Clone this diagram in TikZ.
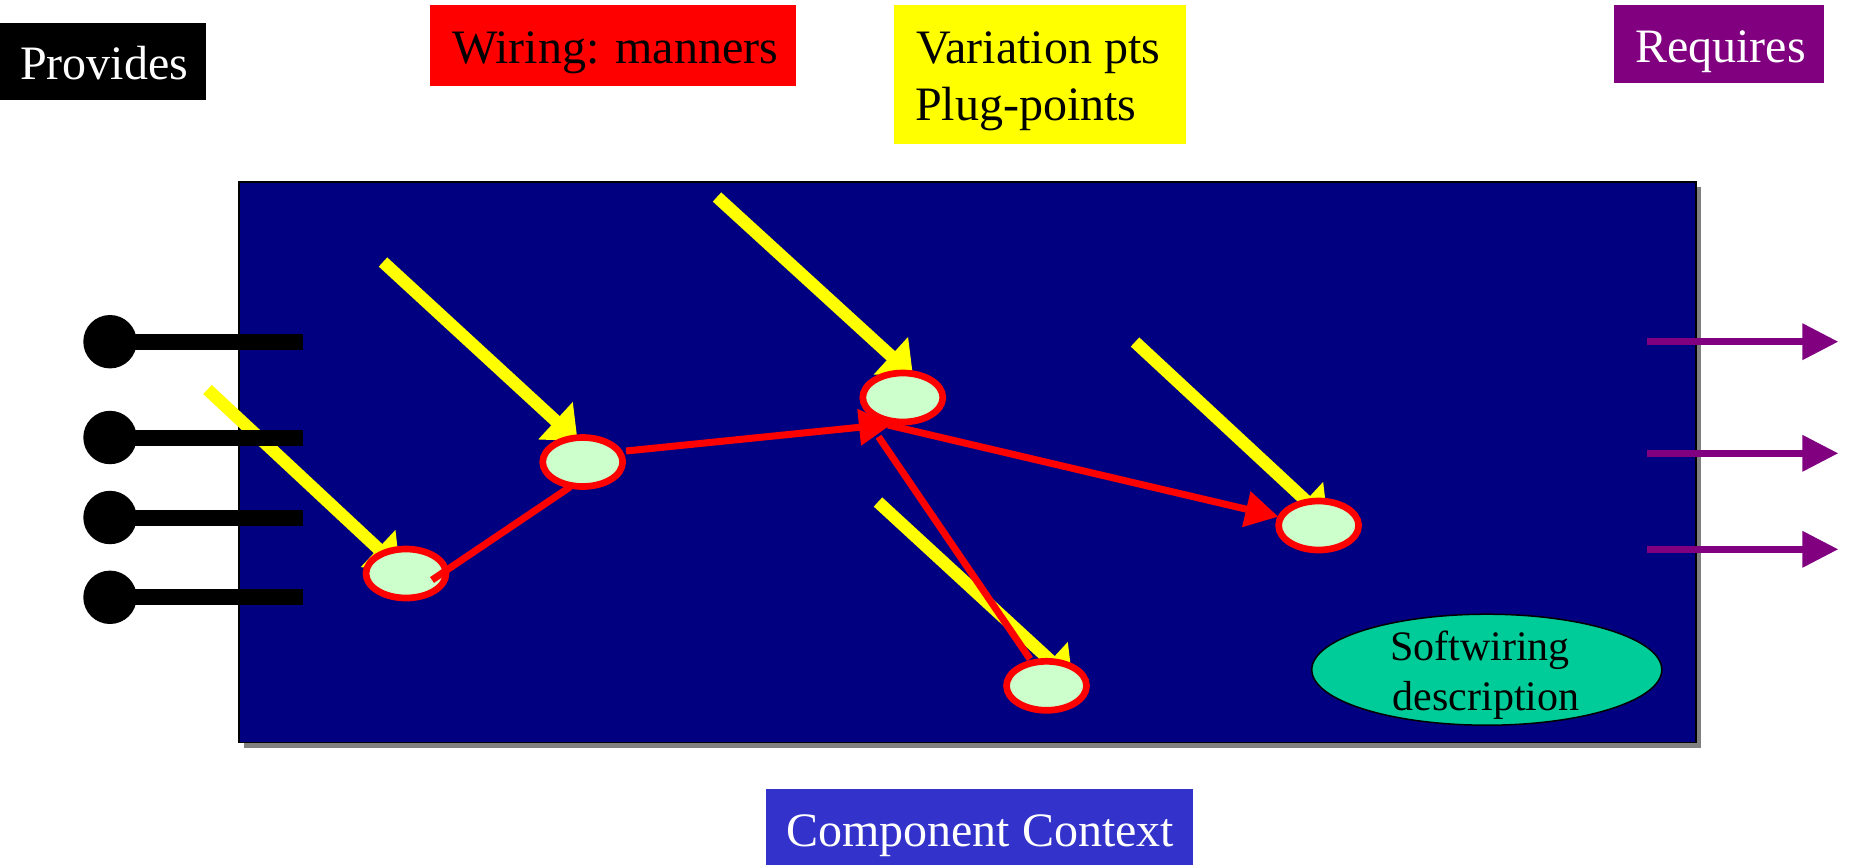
\documentclass[tikz,border=0pt]{standalone}
\usepackage{fontspec}
\setmainfont{Liberation Serif}
\usetikzlibrary{arrows.meta,shapes.geometric}
\definecolor{navyc}{HTML}{000080}
\definecolor{redc}{HTML}{FF0000}
\definecolor{yellowc}{HTML}{FFFF00}
\definecolor{purplec}{HTML}{800080}
\definecolor{compc}{HTML}{3333CC}
\definecolor{plugc}{HTML}{CCFFCC}
\definecolor{softc}{HTML}{00CC99}
\definecolor{shadowc}{HTML}{808080}
\begin{document}
\begin{tikzpicture}[x=1pt,y=-1pt,
  lbl/.style={inner sep=0pt,anchor=base west,font=\fontsize{48}{55}\selectfont},
  slbl/.style={inner sep=0pt,anchor=base west,font=\fontsize{42}{50}\selectfont},
  tagbox/.style={draw=none,inner sep=0pt,anchor=north west},
  yarrow/.style={draw=yellowc,line width=12.5pt,-{Triangle[width=49pt,length=30pt]}},
  rline/.style={draw=redc,line width=7pt},
  rarrow/.style={rline,-{Triangle[width=35pt,length=33pt]}},
  parrow/.style={draw=purplec,line width=7pt,-{Triangle[width=35pt,length=36pt]}},
  plug/.style={ellipse,draw=redc,line width=6.7pt,fill=plugc,minimum width=80pt,minimum height=49pt,inner sep=0pt},
  lolli/.style={circle,fill=black,minimum size=53.4pt,inner sep=0pt},
  stick/.style={line width=16pt,draw=black},
  ]
\useasboundingbox (0,0) rectangle (1852,865);
% label boxes
\node[tagbox,fill=black,minimum width=206pt,minimum height=76.6pt] (provbox) at (0,22.7) {};
\node[tagbox,fill=redc,minimum width=366pt,minimum height=81pt] (wirebox) at (430,4.7) {};
\node[tagbox,fill=yellowc,minimum width=292.4pt,minimum height=138.6pt] (varbox) at (893.3,4.7) {};
\node[tagbox,fill=purplec,minimum width=210pt,minimum height=77.7pt] (reqbox) at (1614,5) {};
\node[tagbox,fill=compc,minimum width=426.7pt,minimum height=76pt] (compbox) at (765.8,789) {};
% main component
\fill[shadowc] (244,187) rectangle (1701,747.5);
\node[tagbox,draw=black,line width=1.5pt,fill=navyc,minimum width=1457pt,minimum height=560.5pt] (ctx) at (238,181) {};
% first yellow arrow (under the sticks)
\coordinate (y1s) at (207.5,389.5);
\coordinate (y1t) at (400,569);
\draw[yarrow] (y1s) -- (y1t);
% provides lollipops
\node[lolli] (pa) at (110,341.7) {};
\node[lolli] (pb) at (110,437.5) {};
\node[lolli] (pc) at (110,517.5) {};
\node[lolli] (pd) at (110,597.3) {};
\coordinate (pae) at (302.7,341.7);
\coordinate (pbe) at (302.7,437.5);
\coordinate (pce) at (302.7,517.5);
\coordinate (pde) at (302.7,597.3);
\draw[stick] (pa.center) -- (pae);
\draw[stick] (pb.center) -- (pbe);
\draw[stick] (pc.center) -- (pce);
\draw[stick] (pd.center) -- (pde);
% other yellow arrows
\coordinate (y2s) at (383,262);
\coordinate (y2t) at (577.6,441);
\coordinate (y3s) at (717,197);
\coordinate (y3t) at (913,376);
\coordinate (y4s) at (1135,342);
\coordinate (y4t) at (1327.8,521);
\coordinate (y5s) at (878,502);
\coordinate (y5t) at (1072.6,681);
\draw[yarrow] (y2s) -- (y2t);
\draw[yarrow] (y3s) -- (y3t);
\draw[yarrow] (y4s) -- (y4t);
\draw[yarrow] (y5s) -- (y5t);
% plug points
\node[plug] (e1) at (406,573.5) {};
\node[plug] (e2) at (582.7,462) {};
\node[plug] (e3) at (902.8,397.5) {};
\node[plug] (e4) at (1318.6,525.5) {};
\node[plug] (e5) at (1046.5,685.8) {};
% wiring
\coordinate (r1s) at (432,580);
\coordinate (r1e) at (570,487);
\coordinate (r2s) at (626,451);
\coordinate (r2e) at (892,424);
\coordinate (r3s) at (888,425);
\coordinate (r3e) at (1278.4,516.7);
\coordinate (r4s) at (878.5,436.7);
\coordinate (r4e) at (1030,659);
\draw[rline] (r1s) -- (r1e);
\draw[rarrow] (r2s) -- (r2e);
\draw[rarrow] (r3s) -- (r3e);
\draw[rline] (r4s) -- (r4e);
% requires arrows
\coordinate (qa) at (1646.7,341.7);
\coordinate (qb) at (1646.7,453.3);
\coordinate (qc) at (1646.7,549.3);
\coordinate (qat) at (1838.3,341.7);
\coordinate (qbt) at (1838.3,453.3);
\coordinate (qct) at (1838.3,549.3);
\draw[parrow] (qa) -- (qat);
\draw[parrow] (qb) -- (qbt);
\draw[parrow] (qc) -- (qct);
% softwiring
\node[ellipse,draw=black,line width=1.5pt,fill=softc,minimum width=350pt,minimum height=111pt,inner sep=0pt] (soft) at (1486.8,669.7) {};
\node[slbl] (softa) at (1390,660) {Softwiring};
\node[slbl] (softb) at (1392.7,710) {description};
% labels
\node[lbl,text=white] (provt) at (20,79.3) {Provides};
\node[lbl,text=black] (wiret) at (452,63) {Wiring: manners};
\node[lbl,text=black] (vart) at (916,63.3) {Variation pts};
\node[lbl,text=black] (plugt) at (915,120.7) {Plug-points};
\node[lbl,text=white] (reqt) at (1635,62.3) {Requires};
\node[lbl,text=white] (compt) at (786,846.7) {Component Context};
\end{tikzpicture}
\end{document}
